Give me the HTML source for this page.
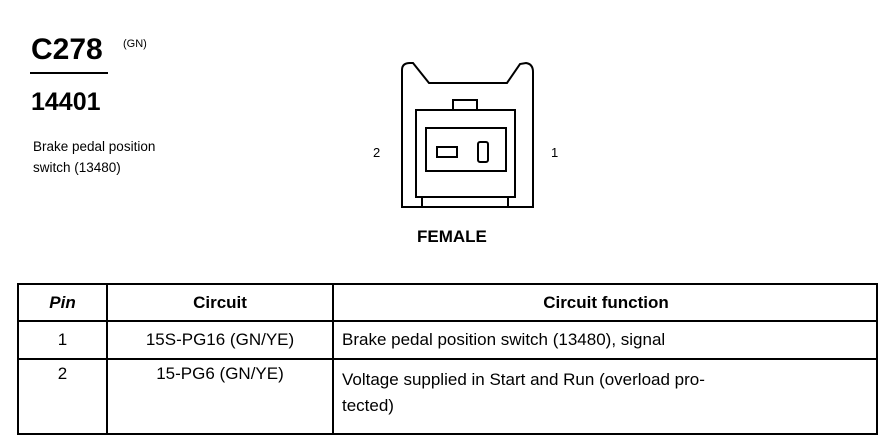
<!DOCTYPE html>
<html><head><style>
body{margin:0;background:#fff;width:896px;height:448px;position:relative;overflow:hidden;font-family:"Liberation Sans",Arial,sans-serif;color:#000}
.a{position:absolute;white-space:nowrap}
table{position:absolute;left:17px;top:283px;border-collapse:collapse;width:861px}
td{border:2px solid #000;font-size:17px;padding:0 6px;vertical-align:top}
</style></head><body>
<div class="a" style="left:31px;top:33px;font-size:30px;font-weight:bold">C278</div>
<div class="a" style="left:30px;top:72px;width:78px;height:2px;background:#000"></div>
<div class="a" style="left:123px;top:38px;font-size:11px">(GN)</div>
<div class="a" style="left:31px;top:88px;font-size:25px;font-weight:bold">14401</div>
<div class="a" style="left:33px;top:136px;font-size:13.5px;line-height:21px">Brake pedal position<br>switch (13480)</div>
<div class="a" style="left:373px;top:145px;font-size:13px">2</div>
<div class="a" style="left:551px;top:145px;font-size:13px">1</div>
<div class="a" style="left:417px;top:227px;font-size:17px;font-weight:bold">FEMALE</div>
<svg class="a" style="left:0;top:0" width="896" height="448">
<g fill="none" stroke="#000" stroke-width="2">
<path d="M402 207 L402 70 Q402 63 410 63 L413 63 L429 83 L507 83 L520 64 L526 63 Q533 64 533 72 L533 207 Z"/>
<rect x="416" y="110" width="99" height="87"/>
<path d="M453 110 L453 100 L477 100 L477 110"/>
<rect x="426" y="128" width="80" height="43"/>
<rect x="437" y="147" width="20" height="10"/>
<rect x="478" y="142" width="10" height="20" rx="2"/>
<path d="M422 197 L422 207 M508 197 L508 207"/>
</g></svg>
<table>
<tr style="height:37px"><td style="width:75px;text-align:center;font-weight:bold;font-style:italic;vertical-align:middle">Pin</td><td style="width:212px;text-align:center;font-weight:bold;vertical-align:middle">Circuit</td><td style="text-align:center;font-weight:bold;vertical-align:middle;padding-left:8px">Circuit function</td></tr>
<tr style="height:38px"><td style="text-align:center;vertical-align:middle">1</td><td style="text-align:center;vertical-align:middle">15S-PG16 (GN/YE)</td><td style="vertical-align:middle;padding-left:8px">Brake pedal position switch (13480), signal</td></tr>
<tr style="height:75px"><td style="text-align:center;padding-top:4px">2</td><td style="text-align:center;padding-top:4px">15-PG6 (GN/YE)</td><td style="padding-top:7px;padding-left:8px;line-height:26px">Voltage supplied in Start and Run (overload pro-<br>tected)</td></tr>
</table>
</body></html>
